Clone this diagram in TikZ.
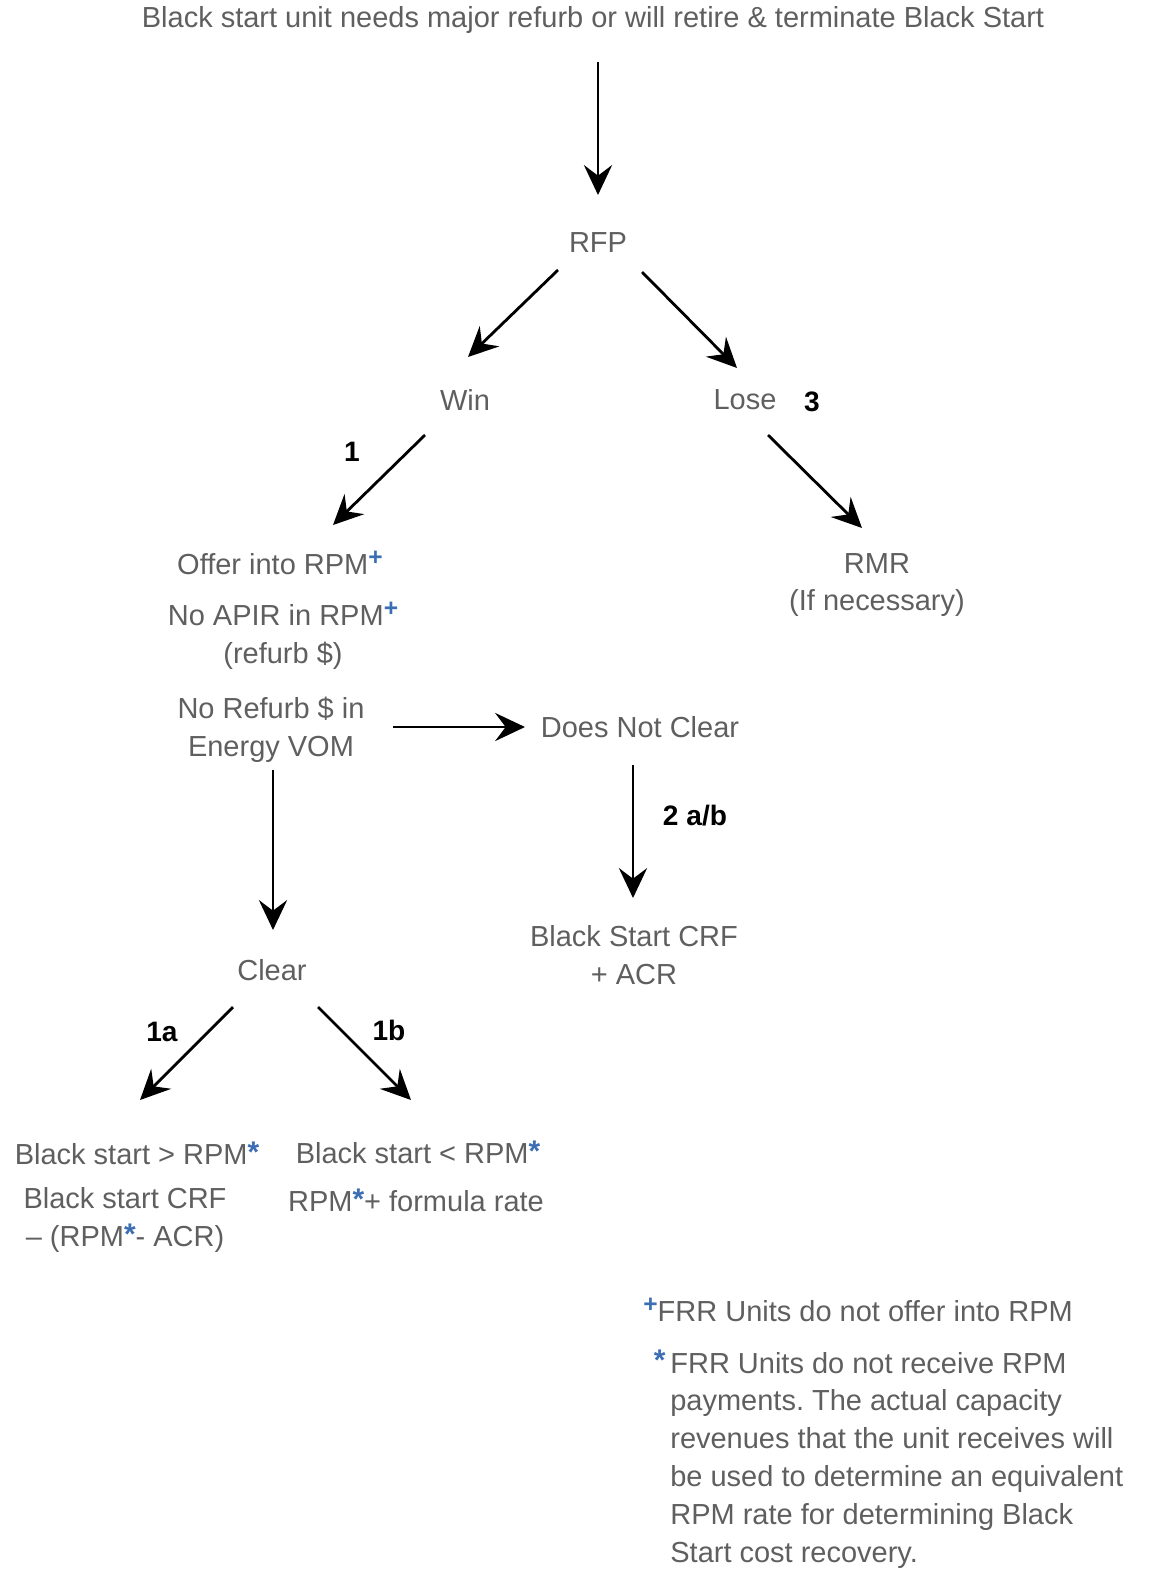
\documentclass[tikz,border=0pt]{standalone}
\usepackage{fontspec}
\setmainfont{Liberation Sans}
\usepackage{tikz}
\usetikzlibrary{arrows.meta}
\frenchspacing

\definecolor{txtgray}{RGB}{95,95,95}
\definecolor{markblue}{RGB}{60,110,180}
\newcommand{\plusmark}{\raisebox{0.6ex}{\color{markblue}\fontsize{14}{14}\selectfont\bfseries +}}
\newcommand{\starmark}{\raisebox{0.15ex}{\color{markblue}\fontsize{17}{17}\selectfont\bfseries *}}

\begin{document}
\begin{tikzpicture}[x=0.02cm,y=-0.02cm,
    every node/.style={font=\fontsize{16.5}{21.5}\selectfont,text=txtgray,align=center,inner sep=0pt},
    num/.style={font=\fontsize{16}{20}\selectfont\bfseries,text=black},
    arr/.style={-{Stealth[length=17pt,width=16pt,inset=6pt]},line width=1.6pt,draw=black}]
    \useasboundingbox (0,0) rectangle (1149,1569);
    \node (top) at (593,20) {Black start unit needs major refurb or will retire \& terminate Black Start};
    \node (rfp) at (598,243) {RFP};
    \node (win) at (465,400) {Win};
    \node (lose) at (745,400) {Lose};
    \node (offer) at (280,563) {Offer into RPM\plusmark};
    \node (apir) at (283,636) {No APIR in RPM\plusmark\\(refurb \$)};
    \node (vom) at (271,730) {No Refurb \$ in\\Energy VOM};
    \node (dnc) at (640,727) {Does Not Clear};
    \node (crf) at (634,955) {Black Start CRF\\+ ACR};
    \node (rmr) at (877,585) {RMR\\(If necessary)};
    \node (clear) at (272,970) {Clear};
    \node (gt) at (137,1153) {Black start > RPM\starmark};
    \node (gtpay) at (125,1220) {Black start CRF\\– (RPM\starmark- ACR)};
    \node (lt) at (418,1152) {Black start < RPM\starmark};
    \node (ltpay) at (416,1200) {RPM\starmark+ formula rate};
    % path numbers
    \node[num] (n1) at (352,452) {1};
    \node[num] (n3) at (812,402) {3};
    \node[num] (n2) at (695,816) {2 a/b};
    \node[num] (n1a) at (162,1032) {1a};
    \node[num] (n1b) at (389,1030) {1b};
    % footnotes
    \node[anchor=west] (plusnote) at (643,1310) {\plusmark FRR Units do not offer into RPM};
    \node[anchor=north west,align=left] (starnote) at (670,1350) {\llap{\starmark\,}FRR Units do not receive RPM\\payments. The actual capacity\\revenues that the unit receives will\\be used to determine an equivalent\\RPM rate for determining Black\\Start cost recovery.};
    % arrows
    \draw[arr] ([shift={(5,42)}]top.center) -- ([shift={(0,-48)}]rfp.center);
    \draw[arr] ([shift={(-40,27)}]rfp.center) -- ([shift={(3,-43)}]win.center);
    \draw[arr] ([shift={(44,29)}]rfp.center) -- ([shift={(-8,-32)}]lose.center);
    \draw[arr] ([shift={(-40,35)}]win.center) -- ([shift={(53,-38)}]offer.center);
    \draw[arr] ([shift={(23,35)}]lose.center) -- ([shift={(-15,-57)}]rmr.center);
    \draw[arr] ([shift={(122,-3)}]vom.center) -- ([shift={(-115,0)}]dnc.center);
    \draw[arr] ([shift={(-7,38)}]dnc.center) -- ([shift={(-1,-57)}]crf.center);
    \draw[arr] ([shift={(2,40)}]vom.center) -- ([shift={(1,-40)}]clear.center);
    \draw[arr] ([shift={(-39,37)}]clear.center) -- ([shift={(3,-53)}]gt.center);
    \draw[arr] ([shift={(46,37)}]clear.center) -- ([shift={(-7,-52)}]lt.center);
\end{tikzpicture}
\end{document}
